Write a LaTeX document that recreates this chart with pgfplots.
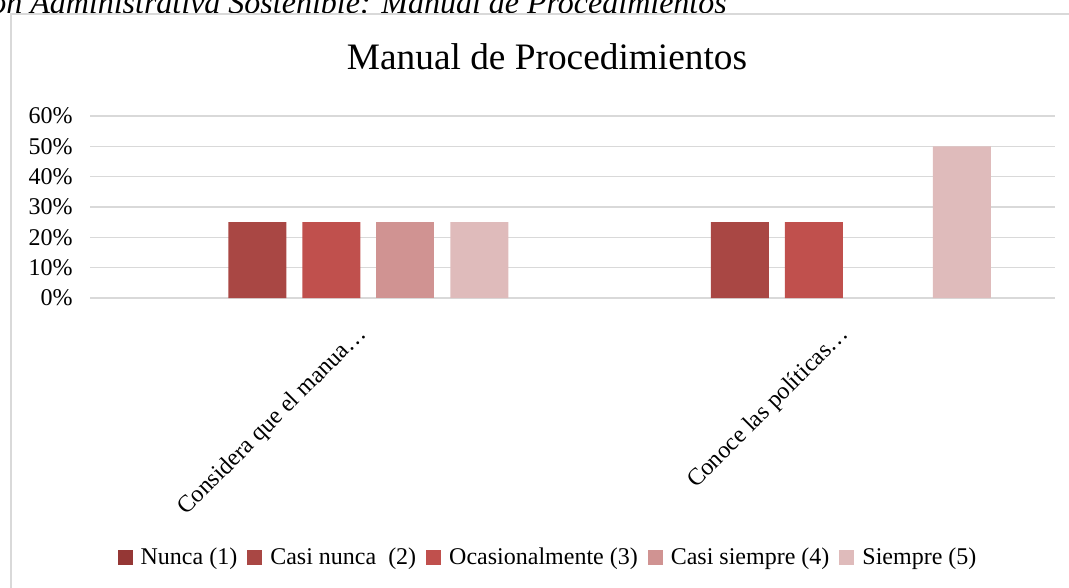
\documentclass[border=0pt]{standalone}
\usepackage{pgfplots}
\pgfplotsset{compat=1.18}
\usepackage{fontspec}
\setmainfont{Liberation Serif}
\definecolor{cNunca}{HTML}{953735}
\definecolor{cCasiNunca}{HTML}{A94744}
\definecolor{cOcas}{HTML}{C0504D}
\definecolor{cCasiSiempre}{HTML}{D09392}
\definecolor{cSiempre}{HTML}{DFBBBB}
\definecolor{gridgray}{HTML}{D9D9D9}
\begin{document}
\begin{tikzpicture}
\useasboundingbox (0pt,0pt) rectangle (801.75pt,-440.25pt);
\clip (0pt,0pt) rectangle (801.75pt,-440.25pt);
\node[anchor=base east, inner sep=0pt, font=\itshape\fontsize{24}{26}\selectfont] at (545.25pt,-9.75pt) {ón Administrativa Sostenible: Manual de Procedimientos};
\draw[gridgray, line width=1.5pt] (8.25pt,-10.5pt) rectangle (812pt,-452pt);
\node[anchor=base, inner sep=0pt, font=\fontsize{28}{32}\selectfont] at (410.25pt,-51.75pt) {Manual de Procedimientos};
\begin{axis}[
  at={(67.5pt,-223.5pt)}, anchor=south west,
  scale only axis, width=723.75pt, height=136.5pt,
  ybar, bar width=43.5pt,
  xmin=-0.5, xmax=1.5, ymin=0, ymax=0.6,
  xtick={0,1},
  xticklabels={Considera que el manua…, Conoce las políticas…},
  ytick={0,0.1,0.2,0.3,0.4,0.5,0.6},
  yticklabels={0\%,10\%,20\%,30\%,40\%,50\%,60\%},
  ymajorgrids, major grid style={gridgray, line width=1.1pt},
  axis line style={draw=none},
  major tick length=0pt,
  tick label style={font=\fontsize{18}{21}\selectfont},
  yticklabel style={anchor=east, inner sep=0pt, xshift=-12.75pt},
  xticklabel style={inner sep=0pt, xshift=24pt, yshift=-24.75pt, rotate=45, anchor=east},
  legend columns=5,
  legend cell align=left,
  legend style={at={(0.4736,-1.4231)}, anchor=center, draw=none, fill=none,
    font=\fontsize{18}{21}\selectfont,
    nodes={inner sep=0pt},
    /tikz/every odd column/.append style={column sep=6pt},
    /tikz/every even column/.append style={column sep=7.5pt}},
  legend image code/.code={\fill[#1] (0pt,-5.625pt) rectangle (11.25pt,5.625pt);},
]
% Nunca (1): 0% in both categories (no visible bar)
\addlegendimage{draw=none, fill=cNunca}
\addlegendentry{Nunca (1)}
\addplot[draw=none, fill=cCasiNunca, bar shift=-55.5pt] coordinates {(0,0.25) (1,0.25)};
\addlegendentry{Casi nunca\ \ (2)}
\addplot[draw=none, fill=cOcas, bar shift=0pt] coordinates {(0,0.25) (1,0.25)};
\addlegendentry{Ocasionalmente (3)}
% Casi siempre: 25% and 0%
\addplot[draw=none, fill=cCasiSiempre, bar shift=55.5pt] coordinates {(0,0.25)};
\addlegendentry{Casi siempre (4)}
\addplot[draw=none, fill=cSiempre, bar shift=111pt] coordinates {(0,0.25) (1,0.5)};
\addlegendentry{Siempre (5)}
\end{axis}
\end{tikzpicture}
\end{document}
